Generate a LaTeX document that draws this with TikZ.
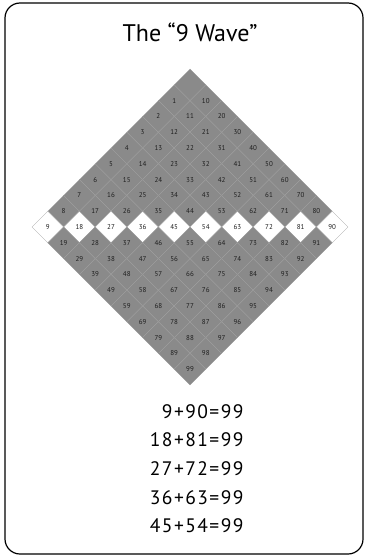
\documentclass[tikz,border=0pt]{standalone}
\usepackage{fontspec}
\setmainfont{PT Sans}
\usepackage{tikz}
\usetikzlibrary{shapes.geometric}
\definecolor{CellGray}{RGB}{138,138,138}
\definecolor{GridGray}{RGB}{158,158,158}
\definecolor{NumGray}{RGB}{30,30,30}

\begin{document}
\begin{tikzpicture}[
  x=1pt, y=-1pt,
  card/.style={draw=black, line width=1.2pt, rounded corners=15pt},
  cell/.style={
    diamond, aspect=1,
    minimum width=31.6pt, minimum height=31.6pt,
    inner sep=0pt, outer sep=0pt,
    fill=CellGray, draw=GridGray, line width=0.3pt,
    font=\fontsize{7}{8}\selectfont, text=NumGray,
  },
  eqn/.style={anchor=base east,
    font=\addfontfeatures{LetterSpace=7}\fontsize{19.5}{21}\selectfont},
]
  \useasboundingbox (0,0) rectangle (365,556);
  \draw[card] (5,3) rectangle (363,554);
  \node[anchor=base, font=\fontsize{24}{26}\selectfont] (title) at (190,41.7) {The “9 Wave”};
  % grid of cells, row a+b, white row where a+b=9
  \foreach \a in {0,...,9}{
    \foreach \b in {0,...,9}{
      \pgfmathtruncatemacro{\n}{10*\a+\b}
      \pgfmathtruncatemacro{\s}{\a+\b}
      \ifnum\s=9 \def\fillc{white}\else\def\fillc{CellGray}\fi
      \ifnum\n=0 \def\lab{}\else\let\lab\n\fi
      \node[cell, fill=\fillc] (c\n) at ({190+(\a-\b)*15.8},{84.8+(\a+\b)*15.8}) {\lab};
    }
  }
  % sums
  \foreach \p/\q [count=\i] in {9/90,18/81,27/72,36/63,45/54}
    \node[eqn] (eq\i) at (247,{418+(\i-1)*28.7}) {\p\kern1.5pt+\kern1.5pt\q\kern1.5pt=\kern1.5pt99};
\end{tikzpicture}
\end{document}
